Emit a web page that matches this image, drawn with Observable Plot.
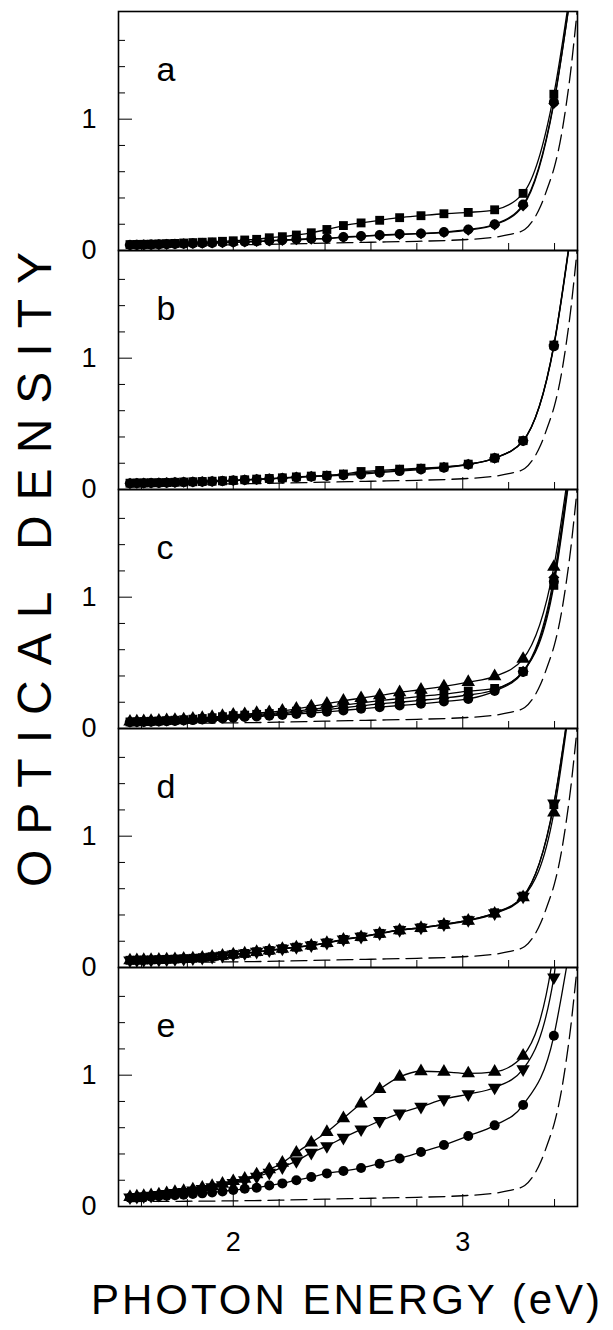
<!DOCTYPE html>
<html><head><meta charset="utf-8">
<script src="https://cdn.jsdelivr.net/npm/d3@7"></script>
<script src="https://cdn.jsdelivr.net/npm/@observablehq/plot@0.6"></script>
<style>
body{margin:0;background:#fff;}
#wrap{position:relative;width:613px;height:1330px;font-family:"Liberation Sans",Arial,Helvetica,sans-serif;color:#000;background:#fff;}
#chart svg{display:block;}
#ytitle{position:absolute;left:34px;top:562px;transform:translate(-50%,-50%) rotate(-90deg);white-space:nowrap;font-size:48px;letter-spacing:15px;}
#xtitle{position:absolute;left:347px;top:1300px;transform:translate(-50%,-50%);white-space:nowrap;font-size:42px;letter-spacing:3px;}
</style></head><body>
<div id="wrap"><div id="chart"></div><div id="ytitle">OPTICAL DENSITY</div><div id="xtitle">PHOTON ENERGY (eV)</div></div>
<script>
// photon energies (eV) of the measured points
const energy = [1.550,1.580,1.610,1.642,1.676,1.710,1.746,1.784,1.824,1.865,1.908,1.953,2.000,2.050,2.102,2.157,2.214,2.275,2.340,2.408,2.480,2.557,2.638,2.725,2.818,2.918,3.024,3.139,3.263,3.397];

// panel a
const aSquare  = [0.045,0.046,0.047,0.048,0.050,0.052,0.054,0.057,0.060,0.063,0.066,0.070,0.074,0.080,0.085,0.097,0.105,0.118,0.135,0.160,0.190,0.210,0.230,0.250,0.265,0.280,0.290,0.310,0.435,1.19];
const aCircle  = [0.042,0.043,0.044,0.045,0.046,0.048,0.050,0.052,0.054,0.056,0.058,0.061,0.064,0.067,0.070,0.075,0.080,0.085,0.090,0.093,0.103,0.110,0.118,0.125,0.130,0.140,0.160,0.200,0.350,1.13];
const aDiamond = [0.041,0.042,0.043,0.044,0.045,0.047,0.049,0.051,0.053,0.055,0.057,0.060,0.062,0.065,0.068,0.072,0.077,0.082,0.087,0.091,0.100,0.107,0.115,0.122,0.128,0.137,0.155,0.195,0.340,1.12];
// panel b
const bSquare  = [0.048,0.049,0.050,0.051,0.052,0.053,0.055,0.057,0.059,0.061,0.063,0.066,0.070,0.074,0.079,0.084,0.089,0.096,0.102,0.108,0.118,0.137,0.145,0.155,0.162,0.172,0.193,0.240,0.372,1.10];
const bCircle  = [0.046,0.047,0.048,0.049,0.050,0.051,0.053,0.055,0.057,0.059,0.061,0.064,0.068,0.072,0.076,0.081,0.086,0.092,0.098,0.103,0.108,0.115,0.128,0.140,0.152,0.166,0.190,0.238,0.370,1.09];
const bDiamond = [0.047,0.048,0.049,0.050,0.051,0.052,0.054,0.056,0.058,0.060,0.062,0.065,0.069,0.073,0.077,0.082,0.087,0.094,0.100,0.105,0.112,0.125,0.136,0.148,0.157,0.169,0.191,0.239,0.371,1.10];
// panel c
const cTriangle = [0.052,0.053,0.055,0.057,0.059,0.062,0.065,0.069,0.074,0.080,0.087,0.095,0.105,0.109,0.117,0.124,0.135,0.150,0.168,0.188,0.211,0.231,0.252,0.275,0.295,0.320,0.353,0.397,0.530,1.23];
const cSquare   = [0.050,0.051,0.053,0.055,0.057,0.060,0.063,0.067,0.071,0.076,0.082,0.090,0.098,0.102,0.108,0.114,0.122,0.132,0.145,0.160,0.178,0.195,0.212,0.228,0.245,0.262,0.285,0.305,0.435,1.09];
const cDiamond  = [0.049,0.050,0.052,0.054,0.056,0.058,0.061,0.064,0.068,0.072,0.077,0.083,0.090,0.095,0.100,0.106,0.113,0.121,0.132,0.144,0.158,0.172,0.187,0.200,0.215,0.232,0.255,0.295,0.435,1.15];
const cCircle   = [0.048,0.049,0.050,0.052,0.054,0.056,0.058,0.061,0.064,0.068,0.072,0.077,0.082,0.087,0.092,0.097,0.103,0.110,0.118,0.127,0.138,0.150,0.162,0.175,0.188,0.205,0.225,0.285,0.430,1.12];
// panel d
const dSquare  = [0.055,0.056,0.057,0.058,0.060,0.062,0.064,0.067,0.070,0.075,0.082,0.090,0.100,0.107,0.120,0.130,0.143,0.155,0.168,0.188,0.214,0.234,0.260,0.285,0.303,0.328,0.360,0.417,0.544,1.24];
const dTriUp   = [0.054,0.055,0.056,0.057,0.059,0.061,0.063,0.066,0.069,0.074,0.081,0.089,0.098,0.106,0.118,0.128,0.141,0.153,0.166,0.186,0.211,0.231,0.257,0.282,0.300,0.325,0.356,0.410,0.535,1.18];
const dTriDown = [0.055,0.056,0.057,0.058,0.060,0.062,0.064,0.067,0.070,0.075,0.082,0.090,0.100,0.108,0.121,0.131,0.144,0.156,0.169,0.189,0.215,0.235,0.261,0.286,0.304,0.329,0.361,0.414,0.540,1.25];
// panel e
const eTriUp   = [0.072,0.076,0.080,0.085,0.092,0.100,0.110,0.117,0.130,0.143,0.155,0.173,0.193,0.211,0.244,0.282,0.333,0.410,0.486,0.567,0.672,0.784,0.893,0.987,1.030,1.025,1.013,1.025,1.148,1.95];
const eTriDown = [0.070,0.074,0.078,0.083,0.089,0.096,0.104,0.112,0.123,0.135,0.147,0.163,0.180,0.200,0.227,0.257,0.300,0.346,0.410,0.460,0.524,0.588,0.651,0.710,0.760,0.817,0.855,0.906,1.046,1.745];
const eCircle  = [0.066,0.069,0.072,0.075,0.078,0.082,0.086,0.090,0.095,0.100,0.106,0.115,0.125,0.135,0.143,0.160,0.176,0.200,0.224,0.252,0.270,0.293,0.326,0.366,0.415,0.468,0.537,0.618,0.773,1.30];

// dashed reference curve (same in every panel)
const refE = [1.55,1.80,2.00,2.20,2.40,2.60,2.80,3.00,3.10,3.20,3.27,3.31,3.34,3.37,3.40,3.43,3.45,3.47,3.49,3.52];
const refV = [0.038,0.040,0.043,0.048,0.056,0.063,0.070,0.082,0.094,0.120,0.160,0.240,0.340,0.480,0.640,0.880,1.100,1.360,1.680,2.200];

// continuation of the solid curves above the last measured point
const tailE = {a:[3.47], b:[3.47], c:[3.46], d:[3.46], e:[3.43, 3.46]};

const panels = ["a","b","c","d","e"];
const xMinor = [1.6,1.8,2.2,2.4,2.6,2.8,3.2,3.4];
const xMajor = [2,3];
const yMinor = [0.2,0.4,0.6,0.8,1.2,1.4,1.6];
const yMajor = [1];
const yLabels = [0,1];

const triangleDown = {
  draw(context, size) {
    const y = -Math.sqrt(size / (Math.sqrt(3) * 3));
    context.moveTo(0, -y * 2);
    context.lineTo(Math.sqrt(3) * y, y);
    context.lineTo(-Math.sqrt(3) * y, y);
    context.closePath();
  }
};

const series = [
  {panel:"a", symbol:"square",   values:aSquare,  tail:[2.00]},
  {panel:"a", symbol:"circle",   values:aCircle,  tail:[1.95]},
  {panel:"a", symbol:"diamond2", values:aDiamond, tail:[1.95]},
  {panel:"b", symbol:"square",   values:bSquare,  tail:[1.95]},
  {panel:"b", symbol:"circle",   values:bCircle,  tail:[1.93]},
  {panel:"b", symbol:"diamond2", values:bDiamond, tail:[1.94]},
  {panel:"c", symbol:"triangle", values:cTriangle, tail:[1.95]},
  {panel:"c", symbol:"square",   values:cSquare,  tail:[1.85]},
  {panel:"c", symbol:"diamond2", values:cDiamond, tail:[1.90]},
  {panel:"c", symbol:"circle",   values:cCircle,  tail:[1.88]},
  {panel:"d", symbol:"square",   values:dSquare,  tail:[1.95]},
  {panel:"d", symbol:"triangle", values:dTriUp,   tail:[1.92]},
  {panel:"d", symbol:triangleDown, values:dTriDown, tail:[1.96]},
  {panel:"e", symbol:"triangle", values:eTriUp,   tail:[2.50, 3.00]},
  {panel:"e", symbol:triangleDown, values:eTriDown, tail:[2.40, 2.90]},
  {panel:"e", symbol:"circle",   values:eCircle,  tail:[1.60, 1.90]}
];

const lineRows = [], dotRows = [], refRows = [];
series.forEach((s, si) => {
  energy.forEach((E, i) => {
    lineRows.push({panel:s.panel, key:si, E, v:s.values[i]});
    dotRows.push({panel:s.panel, si, E, v:s.values[i]});
  });
  const te = tailE[s.panel];
  s.tail.forEach((v, i) => lineRows.push({panel:s.panel, key:si, E:te[i], v}));
});
panels.forEach(p => refE.forEach((E, i) => refRows.push({panel:p, E, v:refV[i]})));

const dotMarks = series.map((s, si) =>
  Plot.dot(dotRows.filter(d => d.si === si), {x:"E", y:"v", fy:"panel", symbol:s.symbol, r:5, fill:"black", stroke:"none", clip:true})
);

const chart = Plot.plot({
  width: 613,
  height: 1265,
  marginTop: 9,
  marginBottom: 58,
  marginLeft: 118,
  marginRight: 36,
  style: {fontFamily: '"Liberation Sans", Arial, Helvetica, sans-serif', background: "white", color: "black"},
  x: {domain: [1.5, 3.5], axis: null},
  y: {domain: [0, 1.82], axis: null},
  fy: {domain: panels, padding: 0, axis: null},
  marks: [
    Plot.line(refRows, {x:"E", y:"v", fy:"panel", curve:"monotone-x", stroke:"black", strokeWidth:1.3, strokeDasharray:"16,7", clip:true}),
    Plot.line(lineRows, {x:"E", y:"v", fy:"panel", z:"key", curve:"monotone-x", stroke:"black", strokeWidth:1.3, clip:true}),
    ...dotMarks,
    Plot.frame({stroke:"black", strokeWidth:1.6}),
    Plot.axisX(xMinor, {anchor:"bottom", tickSize:-7, text:null, label:null, facetAnchor:null, stroke:"black"}),
    Plot.axisX(xMajor, {anchor:"bottom", tickSize:-12, text:null, label:null, facetAnchor:null, stroke:"black"}),
    Plot.axisX(xMajor, {anchor:"bottom", tickSize:0, tickPadding:25, fontSize:27, label:null, tickFormat:d => String(d)}),
    Plot.axisY(yMinor, {anchor:"left", tickSize:-7, text:null, label:null, stroke:"black"}),
    Plot.axisY(yMajor, {anchor:"left", tickSize:-14, text:null, label:null, stroke:"black"}),
    Plot.axisY(yLabels, {anchor:"left", tickSize:0, tickPadding:22, fontSize:27, label:null, tickFormat:d => String(d)}),
    Plot.text(panels, {fy:d => d, text:d => d, frameAnchor:"top-left", dx:38, dy:45, fontSize:34, fill:"black"})
  ]
});
document.getElementById("chart").appendChild(chart);
</script>
</body></html>
